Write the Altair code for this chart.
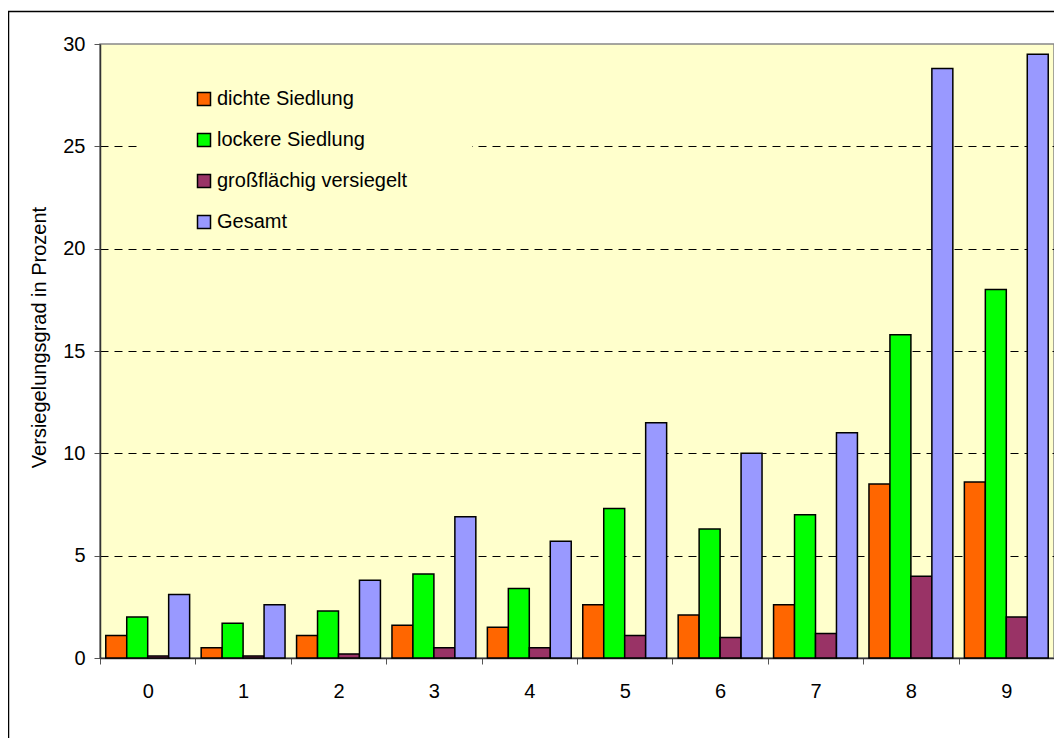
import altair as alt
import pandas as pd

categories = ["0", "1", "2", "3", "4", "5", "6", "7", "8", "9"]
series = ["dichte Siedlung", "lockere Siedlung", "großflächig versiegelt", "Gesamt"]
dichte = [1.1, 0.5, 1.1, 1.6, 1.5, 2.6, 2.1, 2.6, 8.5, 8.6]
lockere = [2.0, 1.7, 2.3, 4.1, 3.4, 7.3, 6.3, 7.0, 15.8, 18.0]
gross = [0.1, 0.1, 0.2, 0.5, 0.5, 1.1, 1.0, 1.2, 4.0, 2.0]
gesamt = [3.1, 2.6, 3.8, 6.9, 5.7, 11.5, 10.0, 11.0, 28.8, 29.5]
colors = ["#FF6600", "#00FF00", "#993366", "#9999FF"]
y_ticks = [0, 5, 10, 15, 20, 25, 30]
y_title = "Versiegelungsgrad in Prozent"

rows = []
for s, vals in zip(series, [dichte, lockere, gross, gesamt]):
    for c, v in zip(categories, vals):
        rows.append({"cat": c, "series": s, "value": v})
df = pd.DataFrame(rows)

FONT = "Liberation Sans"
FS = 20
W, H = 954, 614

bars = alt.Chart(df).mark_bar(stroke="black", strokeWidth=1.5).encode(
    x=alt.X("cat:N", sort=categories,
            scale=alt.Scale(paddingInner=0, paddingOuter=0),
            axis=alt.Axis(title=None, labelAngle=0, tickBand="extent", tickSize=6,
                          labelPadding=17, labelFontSize=FS, labelFont=FONT,
                          labelColor="black", tickColor="#555", domainColor="#333",
                          domainWidth=1.5, grid=False)),
    xOffset=alt.XOffset("series:N", sort=series,
                        scale=alt.Scale(paddingInner=0, paddingOuter=0.275)),
    y=alt.Y("value:Q", scale=alt.Scale(domain=[0, 30], nice=False),
            axis=alt.Axis(values=y_ticks, title=y_title, titleFont=FONT, titleFontSize=FS,
                          titleFontWeight="normal", titleColor="black", titlePadding=13,
                          titleY=293,
                          labelFont=FONT, labelFontSize=FS, labelColor="black", labelPadding=9,
                          tickSize=6, tickColor="#555", domainColor="#333", domainWidth=1.5,
                          grid=True, gridColor="black", gridDash=[8, 6], gridWidth=1,
                          gridOpacity=alt.condition("datum.value == 0 || datum.value == 30",
                                                    alt.value(0), alt.value(1)))),
    fill=alt.Fill("series:N", sort=series,
                  scale=alt.Scale(domain=series, range=colors),
                  legend=alt.Legend(title=None, orient="none", legendX=84, legendY=35,
                                    fillColor="#FFFFCC", padding=10,
                                    labelFont=FONT, labelFontSize=FS, labelColor="black",
                                    labelLimit=500,
                                    symbolType="square", symbolSize=169,
                                    symbolStrokeColor="black", symbolStrokeWidth=1.5,
                                    rowPadding=21, labelOffset=3)),
)

legend_bg = alt.Chart(pd.DataFrame({"k": [0]})).mark_rect(fill="#FFFFCC").encode(
    x=alt.value(40), x2=alt.value(372), y=alt.value(20), y2=alt.value(195)
)

outer = alt.Chart(pd.DataFrame({"k": [0]})).mark_rect(
    fillOpacity=0, stroke="black", strokeWidth=1.5, clip=False
).encode(
    x=alt.value(-91.5), x2=alt.value(W + 200), y=alt.value(-32.5), y2=alt.value(H + 300)
)

chart = alt.layer(legend_bg, bars, outer).properties(
    width=W, height=H,
    padding={"left": 92, "top": 36, "right": 0, "bottom": 80},
    autosize=alt.AutoSizeParams(type="none"),
    background="white",
).configure_view(
    fill="#FFFFCC", stroke="#888888", strokeWidth=1.5
)

chart.save("out.html", embed_options={"renderer": "svg", "actions": False})
